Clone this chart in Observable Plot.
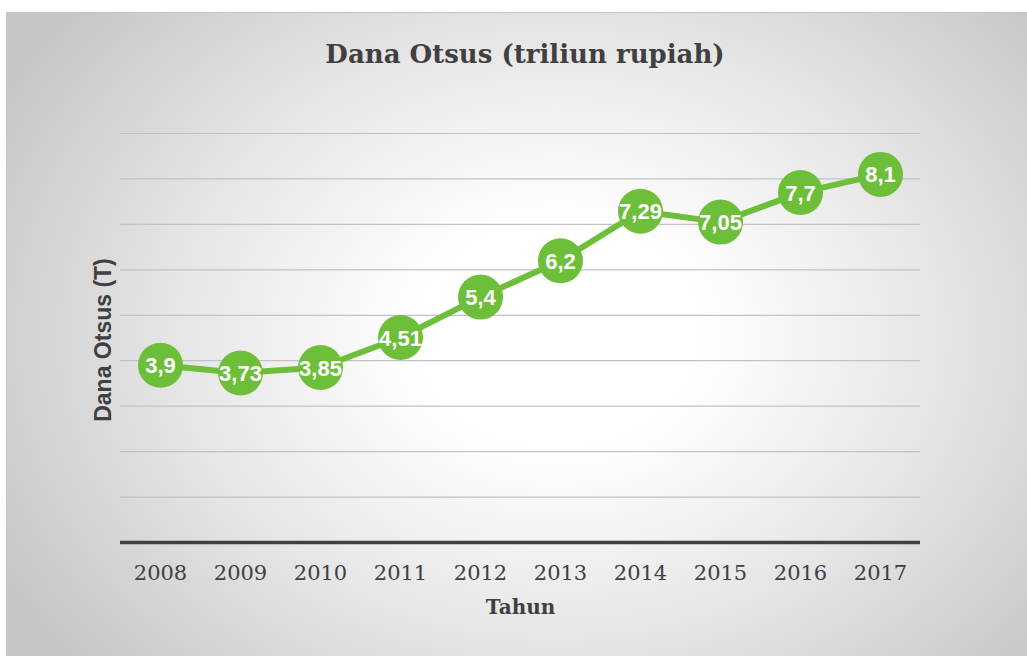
<!DOCTYPE html>
<html>
<head>
<meta charset="utf-8">
<script src="https://cdn.jsdelivr.net/npm/d3@7"></script>
<script src="https://cdn.jsdelivr.net/npm/@observablehq/plot@0.6"></script>
<style>
  html, body { margin: 0; padding: 0; background: #fff; width: 1027px; height: 659px; overflow: hidden; }
  #box {
    position: absolute; left: 6px; top: 12px; width: 1021px; height: 644px;
    border-left: 1.5px solid #c4c4c4; border-top: 1.5px solid #c4c4c4; box-sizing: border-box;
    background: radial-gradient(ellipse 62% 78% at 54% 50%, #ffffff 0%, #ffffff 22%, #e6e6e6 60%, #c6c6c6 100%);
  }
  #title {
    position: absolute; left: 0; width: 1050px; top: 39px; text-align: center;
    font-family: "DejaVu Serif", serif; font-weight: bold; font-size: 26px; color: #404040;
  }
  #ylabel {
    position: absolute; left: 103px; top: 340px; transform: translate(-50%, -50%) rotate(-90deg);
    font-family: "Liberation Sans", Arial, sans-serif; font-weight: bold; font-size: 23px; color: #404040; white-space: nowrap;
  }
  #xlabel {
    position: absolute; left: 0; width: 1041px; top: 595px; text-align: center;
    font-family: "DejaVu Serif", serif; font-weight: bold; font-size: 20px; color: #404040;
  }
  #chart { position: absolute; left: 0; top: 0; }
</style>
</head>
<body>
<div id="box"></div>
<div id="chart"></div>
<div id="title">Dana Otsus (triliun rupiah)</div>
<div id="ylabel">Dana Otsus (T)</div>
<div id="xlabel">Tahun</div>
<script>
const years = ["2008","2009","2010","2011","2012","2013","2014","2015","2016","2017"];
const values = [3.9, 3.73, 3.85, 4.51, 5.4, 6.2, 7.29, 7.05, 7.7, 8.1];
const valueLabels = ["3,9","3,73","3,85","4,51","5,4","6,2","7,29","7,05","7,7","8,1"];
const gridValues = [1, 2, 3, 4, 5, 6, 7, 8, 9];

const data = years.map((y, i) => ({year: y, value: values[i], label: valueLabels[i]}));
const green = "#6dbe39";

const chart = Plot.plot({
  width: 1027,
  height: 659,
  marginLeft: 120,
  marginRight: 107,
  marginTop: 133,
  marginBottom: 117,
  style: {background: "transparent", overflow: "visible"},
  x: {type: "point", domain: years, padding: 0.5, round: false, label: null, axis: null},
  y: {domain: [0, 9], label: null, axis: null},
  marks: [
    Plot.ruleY(gridValues, {stroke: "#c2c2c2", strokeWidth: 1.2}),
    Plot.ruleY([0], {stroke: "#404040", strokeWidth: 3.5}),
    Plot.axisX({tickSize: 0, tickPadding: 23, fontSize: 21, fill: "#404040", fontFamily: "DejaVu Serif", label: null}),
    Plot.line(data, {x: "year", y: "value", stroke: green, strokeWidth: 6}),
    Plot.dot(data, {x: "year", y: "value", r: 22.5, fill: green, stroke: "none"}),
    Plot.text(data, {x: "year", y: "value", text: "label", fill: "white", fontSize: 22, fontWeight: "bold", fontFamily: "Liberation Sans, Arial, sans-serif", dy: 1})
  ]
});
document.getElementById("chart").appendChild(chart);
</script>
</body>
</html>
